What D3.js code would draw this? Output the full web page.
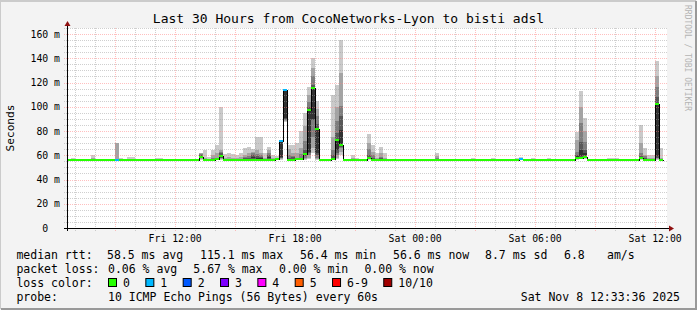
<!DOCTYPE html>
<html>
<head>
<meta charset="utf-8">
<script src="https://d3js.org/d3.v7.min.js"></script>
<style>
  body { margin: 0; background: #f3f3f3; }
  svg { display: block; }
  text { font-family: "DejaVu Sans Mono", monospace; fill: #000; }
</style>
</head>
<body>
<svg id="chart" width="697" height="310"></svg>
<script>
// 30 hours in 12 minute bins, the last one ends at the graph edge
var startTime = new Date(2025, 10, 7, 6, 37);
var endTime = new Date(2025, 10, 8, 12, 37);
var binMinutes = 12;

// median rtt of each bin (ms)
var medianRtt = [
  56.5, 56.5, 56.5, 56.5, 56.5, 56.5, 56.5, 56.5, 56.5, 56.5,
  56.5, 56.5, 56.5, 56.5, 56.5, 56.5, 56.5, 56.5, 56.5, 56.5,
  56.5, 56.5, 56.5, 56.5, 56.5, 56.5, 56.5, 56.5, 56.5, 56.5,
  56.5, 56.5, 56.5, 58.3, 56.5, 56.5, 56.5, 56.6, 59.2, 56.5,
  56.5, 56.5, 56.5, 56.5, 56.5, 56.5, 56.5, 56.5, 56.5, 56.5,
  56.5, 56.5, 56.6, 71.5, 114.0, 56.5, 56.5, 56.6, 57.3, 60.8,
  97.2, 115.1, 81.7, 56.5, 56.5, 56.5, 56.6, 72.2, 68.5, 56.5,
  56.5, 56.5, 56.5, 56.5, 56.5, 57.8, 56.5, 56.5, 56.5, 56.5,
  56.5, 56.5, 56.5, 56.5, 56.5, 56.5, 56.5, 56.5, 56.5, 56.5,
  56.5, 56.5, 56.5, 56.5, 56.5, 56.5, 56.5, 56.5, 56.5, 56.5,
  56.5, 56.5, 56.5, 56.5, 56.5, 56.5, 56.5, 56.5, 56.5, 56.5,
  56.5, 56.5, 56.5, 56.6, 56.5, 56.5, 56.5, 56.5, 56.5, 56.5,
  56.5, 56.5, 56.5, 56.5, 56.5, 56.5, 56.5, 57.4, 57.8, 58.5,
  56.5, 56.5, 56.5, 56.5, 56.5, 56.5, 56.5, 56.5, 56.5, 56.5,
  56.5, 56.5, 56.5, 57.4, 56.5, 56.5, 56.5, 102.7, 56.4
];

// bins that lost pings (out of 10)
var lossBins = [12, 53, 54, 113];
var lossCounts = [1, 1, 1, 1];

// sorted ping times of the bins that show smoke
var smokeBins = [1, 6, 12, 13, 15, 16, 22, 23, 33, 34, 35, 36, 37, 38, 39, 40, 41, 42, 43, 44,
  45, 46, 47, 48, 49, 50, 51, 52, 53, 54, 55, 56, 57, 58, 59, 60, 61, 62, 66, 67,
  68, 71, 72, 75, 76, 77, 78, 79, 92, 101, 106, 112, 113, 116, 120, 127, 128, 129, 135, 136,
  137, 143, 144, 145, 146, 147, 148];
var smokePings = [
  [56.3, 56.4, 56.4, 56.5, 56.5, 56.6, 56.6, 56.7, 56.9, 58.0],
  [56.3, 56.4, 56.4, 56.5, 56.5, 56.6, 56.6, 56.8, 57.5, 60.0],
  [56.3, 56.4, 56.4, 56.5, 56.5, 56.6, 56.7, 57.0, 70.4, 70.4],
  [56.3, 56.4, 56.4, 56.5, 56.5, 56.6, 56.6, 56.7, 56.8, 57.5],
  [56.3, 56.4, 56.4, 56.5, 56.5, 56.6, 56.6, 56.7, 57.0, 58.8],
  [56.3, 56.4, 56.4, 56.5, 56.5, 56.6, 56.6, 56.7, 57.0, 58.8],
  [56.3, 56.4, 56.4, 56.5, 56.5, 56.6, 56.6, 56.7, 56.9, 57.7],
  [56.3, 56.4, 56.4, 56.5, 56.5, 56.6, 56.6, 56.7, 56.9, 57.7],
  [56.5, 57.0, 57.5, 58.0, 58.3, 59.0, 60.0, 61.0, 61.5, 62.0],
  [56.3, 56.4, 56.5, 56.5, 56.6, 56.7, 56.9, 57.2, 58.0, 64.4],
  [56.3, 56.4, 56.4, 56.5, 56.5, 56.6, 56.6, 56.7, 57.0, 58.8],
  [56.3, 56.4, 56.5, 56.5, 56.6, 56.7, 57.0, 57.8, 60.0, 64.4],
  [56.3, 56.4, 56.5, 56.5, 56.6, 56.8, 57.2, 58.0, 62.0, 68.5],
  [56.5, 57.0, 57.5, 58.0, 58.8, 60.0, 62.0, 63.0, 64.0, 99.6],
  [56.3, 56.4, 56.4, 56.5, 56.5, 56.6, 56.7, 57.2, 58.0, 61.0],
  [56.3, 56.4, 56.4, 56.5, 56.5, 56.6, 56.7, 57.0, 58.5, 61.6],
  [56.3, 56.4, 56.4, 56.5, 56.5, 56.6, 56.7, 57.0, 58.0, 61.0],
  [56.3, 56.4, 56.4, 56.5, 56.5, 56.6, 56.6, 56.8, 57.5, 60.0],
  [56.3, 56.4, 56.4, 56.5, 56.5, 56.6, 56.7, 57.0, 58.5, 62.0],
  [56.3, 56.4, 56.5, 56.6, 56.7, 57.0, 57.5, 58.5, 60.0, 65.7],
  [56.3, 56.4, 56.5, 56.6, 56.8, 57.2, 58.0, 59.5, 62.0, 66.6],
  [56.4, 56.5, 56.7, 57.0, 57.5, 58.5, 60.0, 61.5, 63.0, 65.0],
  [56.4, 56.5, 56.6, 56.9, 57.3, 58.0, 59.5, 61.0, 64.0, 75.0],
  [56.3, 56.5, 56.6, 56.8, 57.0, 57.6, 58.5, 60.0, 62.0, 75.0],
  [56.3, 56.4, 56.4, 56.5, 56.5, 56.6, 56.7, 57.0, 58.0, 61.6],
  [56.4, 56.5, 56.7, 57.0, 57.5, 58.5, 60.0, 62.0, 64.0, 67.0],
  [56.3, 56.4, 56.4, 56.5, 56.5, 56.6, 56.6, 56.8, 57.5, 60.0],
  [56.3, 56.4, 56.4, 56.5, 56.5, 56.6, 56.6, 56.8, 57.5, 59.0],
  [56.5, 57.0, 57.5, 58.0, 58.5, 71.0, 71.5, 72.0, 72.5, 73.0],
  [87.7, 88.0, 89.0, 90.0, 91.0, 113.0, 113.5, 114.0, 114.5, 115.0],
  [56.3, 56.4, 56.5, 56.6, 56.8, 57.2, 58.0, 60.0, 65.0, 68.5],
  [56.3, 56.4, 56.5, 56.6, 56.8, 57.2, 58.5, 59.0, 62.0, 68.5],
  [56.3, 56.4, 56.5, 56.5, 56.6, 56.8, 57.2, 58.0, 62.0, 70.0],
  [56.4, 56.5, 56.7, 57.0, 57.2, 57.5, 58.0, 61.0, 66.0, 80.0],
  [56.5, 57.0, 58.0, 59.0, 60.0, 61.5, 64.0, 72.0, 84.0, 95.0],
  [57.0, 58.0, 60.0, 62.0, 63.0, 98.0, 100.0, 104.0, 110.0, 116.6],
  [62.0, 66.0, 75.0, 89.0, 90.0, 115.0, 118.0, 125.0, 132.0, 140.0],
  [56.5, 57.0, 58.0, 60.0, 62.0, 82.0, 86.0, 92.0, 98.0, 105.0],
  [56.5, 56.6, 56.8, 57.0, 57.5, 58.0, 60.0, 64.0, 75.0, 109.7],
  [57.0, 58.0, 60.0, 62.0, 64.0, 73.0, 78.0, 88.0, 100.0, 118.0],
  [60.0, 63.0, 66.0, 67.0, 68.0, 81.0, 92.0, 101.0, 127.6, 155.0],
  [56.3, 56.4, 56.4, 56.5, 56.5, 56.6, 56.6, 56.8, 57.5, 60.2],
  [56.3, 56.4, 56.4, 56.5, 56.5, 56.6, 56.6, 56.7, 57.0, 58.0],
  [56.5, 56.8, 57.0, 57.3, 57.5, 58.0, 60.0, 65.0, 70.0, 77.5],
  [56.3, 56.4, 56.5, 56.6, 56.8, 57.2, 58.0, 60.0, 63.0, 68.5],
  [56.3, 56.4, 56.4, 56.5, 56.5, 56.6, 56.7, 57.0, 58.0, 61.6],
  [56.3, 56.4, 56.5, 56.6, 56.7, 57.0, 57.5, 58.5, 62.0, 66.5],
  [56.3, 56.4, 56.4, 56.5, 56.5, 56.6, 56.7, 57.0, 58.0, 61.6],
  [56.3, 56.4, 56.5, 56.5, 56.6, 56.7, 57.0, 57.5, 59.0, 61.6],
  [56.3, 56.4, 56.4, 56.5, 56.5, 56.6, 56.6, 56.7, 56.9, 57.8],
  [56.3, 56.4, 56.4, 56.5, 56.5, 56.6, 56.6, 56.7, 56.9, 57.8],
  [56.3, 56.4, 56.4, 56.5, 56.5, 56.6, 56.6, 56.7, 56.9, 57.8],
  [56.3, 56.4, 56.4, 56.5, 56.5, 56.6, 56.6, 56.8, 57.2, 58.8],
  [56.3, 56.4, 56.4, 56.5, 56.5, 56.6, 56.6, 56.7, 56.9, 57.8],
  [56.3, 56.4, 56.4, 56.5, 56.5, 56.6, 56.6, 56.7, 56.9, 57.8],
  [56.5, 56.8, 57.0, 57.5, 58.0, 59.0, 60.0, 63.0, 72.6, 79.5],
  [56.8, 57.0, 57.5, 58.0, 59.0, 64.4, 71.2, 86.4, 100.0, 113.0],
  [57.0, 57.5, 58.0, 59.0, 60.0, 62.0, 64.4, 71.0, 80.0, 90.5],
  [56.3, 56.4, 56.4, 56.5, 56.5, 56.6, 56.6, 56.7, 56.9, 57.7],
  [56.3, 56.4, 56.4, 56.5, 56.5, 56.6, 56.6, 56.7, 56.9, 57.7],
  [56.3, 56.4, 56.4, 56.5, 56.5, 56.6, 56.6, 56.7, 56.9, 57.7],
  [56.5, 56.8, 57.0, 57.3, 57.6, 58.0, 59.0, 62.0, 70.0, 85.0],
  [56.3, 56.4, 56.5, 56.6, 56.8, 57.2, 58.0, 59.0, 60.0, 65.7],
  [56.3, 56.4, 56.4, 56.5, 56.5, 56.6, 56.6, 56.8, 57.5, 60.0],
  [56.3, 56.4, 56.4, 56.5, 56.5, 56.6, 56.6, 56.8, 57.5, 60.0],
  [56.5, 57.0, 57.5, 58.0, 59.0, 103.0, 108.0, 116.6, 125.0, 138.0],
  [56.3, 56.4, 56.4, 56.5, 56.5, 56.6, 56.6, 56.7, 57.5, 65.7]
];

var lossColors = ["#26ff00", "#00b8ff", "#0059ff", "#7e00ff", "#ff00ff", "#ff5e00", "#ff0000", "#a10000"];
var lossLabels = ["0", "1", "2", "3", "4", "5", "6-9", "10/10"];

var rttStats = ["58.5 ms avg", "115.1 ms max", "56.4 ms min", "56.6 ms now", "8.7 ms sd", "6.8", "am/s"];
var lossStats = ["0.06 % avg", "5.67 % max", "0.00 % min", "0.00 % now"];
var probeText = "10 ICMP Echo Pings (56 Bytes) every 60s";
var stampText = "Sat Nov  8 12:33:36 2025";
var titleText = "Last 30 Hours from CocoNetworks-Lyon to bisti adsl";

var W = 697, H = 310;
var plot = {left: 67, right: 667, top: 28, bottom: 228};

var x = d3.scaleTime().domain([startTime, endTime]).range([plot.left, plot.right]);
var y = d3.scaleLinear().domain([0, 165]).range([plot.bottom, plot.top]);

function binStart(i) { return d3.timeMinute.offset(startTime, i * binMinutes); }
function lossOf(i) {
  var k = lossBins.indexOf(i);
  return k < 0 ? 0 : lossCounts[k];
}
function lossColor(n) {
  if (n >= 10) return lossColors[7];
  if (n >= 6) return lossColors[6];
  return lossColors[n];
}

var svg = d3.select("#chart");

// background and 3d frame
svg.append("rect").attr("width", W).attr("height", H).attr("fill", "#f3f3f3");
svg.append("path").attr("d", "M0,309V1H696").attr("fill", "none").attr("stroke", "#cbcbcb").attr("stroke-width", 2);
svg.append("path").attr("d", "M1,309H696V1").attr("fill", "none").attr("stroke", "#999").attr("stroke-width", 2);

svg.append("rect")
  .attr("x", plot.left).attr("y", plot.top)
  .attr("width", plot.right - plot.left).attr("height", plot.bottom - plot.top)
  .attr("fill", "#fff");

// smoke: outermost pair lightest, innermost darkest
var smokeColors = ["#cacaca", "#a4a4a4", "#7e7e7e", "#585858", "#323232"];
smokeColors.forEach(function(c, k) {
  svg.append("g").attr("shape-rendering", "crispEdges")
    .selectAll("rect").data(smokeBins).join("rect")
    .attr("x", function(d) { return x(binStart(d)); })
    .attr("width", function(d) { return x(binStart(d + 1)) - x(binStart(d)); })
    .attr("y", function(d, j) { return y(smokePings[j][9 - k]); })
    .attr("height", function(d, j) { return Math.max(0, y(smokePings[j][k]) - y(smokePings[j][9 - k])); })
    .attr("fill", c);
});

// grid, dotted, drawn over the smoke
var grid = svg.append("g").attr("shape-rendering", "crispEdges").attr("fill", "none");
d3.range(5, 166, 5).forEach(function(v) {
  var major = v % 20 === 0;
  var yy = Math.round(y(v)) + 0.5;
  grid.append("line")
    .attr("x1", plot.left - 3).attr("x2", plot.right).attr("y1", yy).attr("y2", yy)
    .attr("stroke", major ? "#ff8080" : "#a0a0a0")
    .attr("stroke-opacity", major ? 0.5 : 0.5)
    .attr("stroke-dasharray", "1,1");
});
x.ticks(d3.timeHour.every(1)).forEach(function(t) {
  var major = t.getHours() % 3 === 0;
  var xx = Math.round(x(t)) + 0.5;
  grid.append("line")
    .attr("x1", xx).attr("x2", xx).attr("y1", plot.top).attr("y2", plot.bottom + 3)
    .attr("stroke", major ? "#ff8080" : "#a0a0a0")
    .attr("stroke-opacity", major ? 0.5 : 0.5)
    .attr("stroke-dasharray", "1,1");
});

// median as a thin dark step line, then coloured by loss on top
function ym(v) { return Math.round(y(v)); }
var steps = medianRtt.map(function(v, i) { return [binStart(i), v]; });
steps.push([binStart(medianRtt.length), medianRtt[medianRtt.length - 1]]);
svg.append("path").datum(steps)
  .attr("d", d3.line().x(function(d) { return Math.round(x(d[0])) + 0.5; }).y(function(d) { return ym(d[1]) + 0.5; }).curve(d3.curveStepAfter))
  .attr("fill", "none").attr("stroke", "#000").attr("stroke-width", 1)
  .attr("shape-rendering", "crispEdges");

svg.append("g").attr("shape-rendering", "crispEdges")
  .selectAll("line").data(medianRtt).join("line")
  .attr("x1", function(d, i) { return x(binStart(i)); })
  .attr("x2", function(d, i) { return x(binStart(i + 1)); })
  .attr("y1", function(d) { return ym(d); })
  .attr("y2", function(d) { return ym(d); })
  .attr("stroke", function(d, i) { return lossColor(lossOf(i)); })
  .attr("stroke-width", 2);

// axes with arrows
svg.append("line").attr("x1", plot.left - 3).attr("x2", plot.right + 4)
  .attr("y1", plot.bottom + 0.5).attr("y2", plot.bottom + 0.5).attr("stroke", "#000");
svg.append("line").attr("x1", plot.left + 0.5).attr("x2", plot.left + 0.5)
  .attr("y1", plot.bottom + 3).attr("y2", plot.top - 4).attr("stroke", "#000");
svg.append("path").attr("fill", "#8f1010")
  .attr("d", "M" + (plot.right + 7) + "," + (plot.bottom + 0.5) + "l-5,-3v6z");
svg.append("path").attr("fill", "#8f1010")
  .attr("d", "M" + (plot.left + 0.5) + "," + (plot.top - 7) + "l-3,5h6z");

var yAxis = svg.append("g").attr("transform", "translate(" + plot.left + ",0)")
  .call(d3.axisLeft(y).tickValues(d3.range(0, 161, 20)).tickSize(0).tickPadding(7)
    .tickFormat(function(d) { return d === 0 ? "0  " : d + " m"; }));
yAxis.select(".domain").remove();
yAxis.selectAll("text").attr("xml:space", "preserve")
  .attr("font-family", "DejaVu Sans Mono").attr("font-size", 9.8).attr("fill", "#000");

var xAxis = svg.append("g").attr("transform", "translate(0," + plot.bottom + ")")
  .call(d3.axisBottom(x).ticks(d3.timeHour.every(6)).tickSize(0).tickPadding(7)
    .tickFormat(d3.timeFormat("%a %H:%M")));
xAxis.select(".domain").remove();
xAxis.selectAll("text").attr("font-family", "DejaVu Sans Mono").attr("font-size", 9.8).attr("fill", "#000");

// titles
svg.append("text").attr("x", 348.5).attr("y", 23).attr("text-anchor", "middle")
  .attr("font-size", 13).text(titleText);
svg.append("text").attr("transform", "translate(14,128) rotate(-90)")
  .attr("text-anchor", "middle").attr("font-size", 11.2).text("Seconds");
svg.append("text").attr("transform", "translate(685,5) rotate(90)")
  .attr("font-size", 8).style("fill", "#b4b4b4").text("RRDTOOL / TOBI OETIKER");

// legend
var lg = svg.append("g").attr("font-size", 11.5).attr("xml:space", "preserve");
var rowY = [258.5, 272.5, 286.5, 300.5];
lg.append("text").attr("x", 16.4).attr("y", rowY[0]).text("median rtt:");
[107, 200, 300, 393, 485, 564, 607].forEach(function(px, i) {
  lg.append("text").attr("x", px).attr("y", rowY[0]).text(rttStats[i]);
});
lg.append("text").attr("x", 16.4).attr("y", rowY[1]).text("packet loss:");
[108, 193.3, 279, 364.4].forEach(function(px, i) {
  lg.append("text").attr("x", px).attr("y", rowY[1]).text(lossStats[i]);
});
lg.append("text").attr("x", 16.4).attr("y", rowY[2]).text("loss color:");
var bx = 108.5;
lossLabels.forEach(function(lab, i) {
  lg.append("rect").attr("x", bx).attr("y", 278.5).attr("width", 8).attr("height", 8)
    .attr("fill", lossColors[i]).attr("stroke", "#000").attr("stroke-width", 1);
  lg.append("text").attr("x", bx + 14.5).attr("y", rowY[2]).text(lab);
  bx += 30.4 + 6.94 * lab.length;
});
lg.append("text").attr("x", 16.4).attr("y", rowY[3]).text("probe:");
lg.append("text").attr("x", 108).attr("y", rowY[3]).text(probeText);
lg.append("text").attr("x", 680).attr("y", rowY[3]).attr("text-anchor", "end").text(stampText);
</script>
</body>
</html>
